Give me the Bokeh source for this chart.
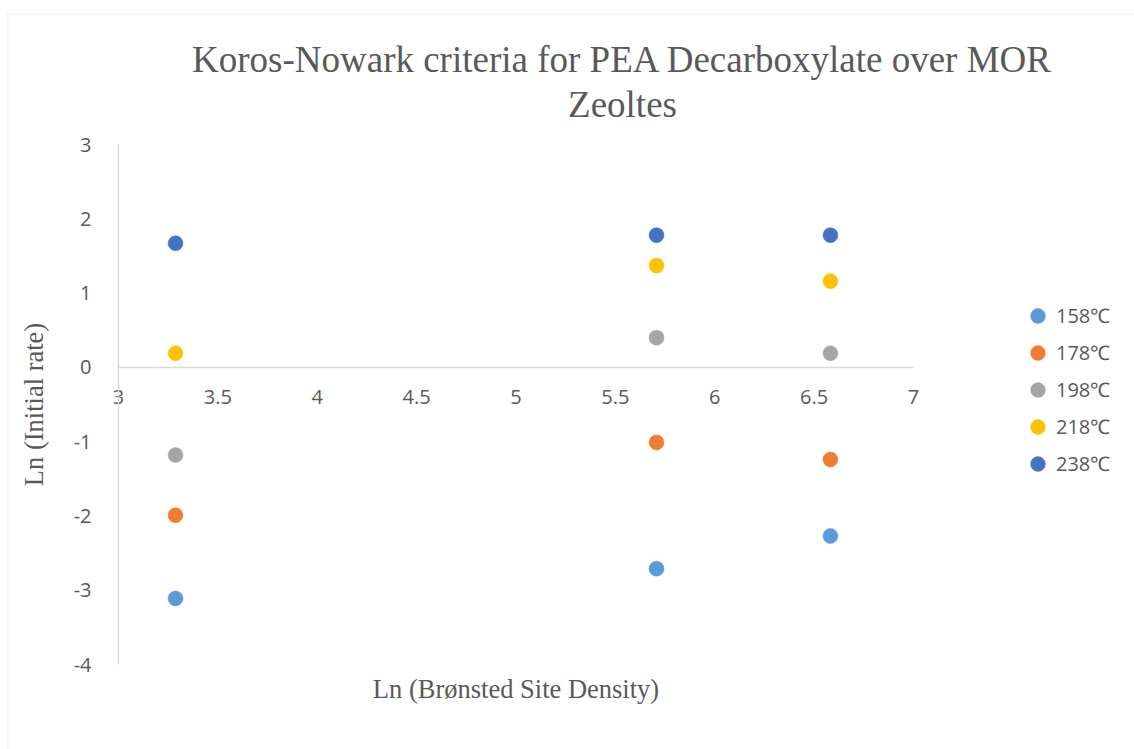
from bokeh.plotting import figure
from bokeh.models import (ColumnDataSource, Legend, LegendItem, LinearAxis,
                          FixedTicker, Label, Range1d, BoxAnnotation)
from bokeh.embed import file_html
from bokeh.resources import INLINE

# ---- data ----
x_density = [3.287, 5.707, 6.582]
series_names = ["158℃", "178℃", "198℃", "218℃", "238℃"]
y_158 = [-3.11, -2.71, -2.27]
y_178 = [-1.99, -1.01, -1.24]
y_198 = [-1.18, 0.40, 0.19]
y_218 = [0.19, 1.37, 1.16]
y_238 = [1.67, 1.78, 1.78]
series_values = [y_158, y_178, y_198, y_218, y_238]
colors = ["#5B9BD5", "#ED7D31", "#A5A5A5", "#FFC000", "#4472C4"]

x_ticks = [3, 3.5, 4, 4.5, 5, 5.5, 6, 6.5, 7]
x_tick_labels = ["3", "3.5", "4", "4.5", "5", "5.5", "6", "6.5", "7"]
y_ticks = [-4, -3, -2, -1, 0, 1, 2, 3]
y_tick_labels = ["-4", "-3", "-2", "-1", "0", "1", "2", "3"]

title_line1 = "Koros-Nowark criteria for PEA Decarboxylate over MOR"
title_line2 = "Zeoltes"
x_label = "Ln (Brønsted Site Density)"
y_label = "Ln (Initial rate)"

TXT = "#595959"
AX = "#D9D9D9"
SANS = "Open Sans"
SERIF = "Liberation Serif"

W, H = 1134, 749
# plot-area placement on the canvas (pixels)
AREA_L, AREA_R, AREA_T, AREA_B = 118, 913, 144, 664
x0, x1 = x_ticks[0], x_ticks[-1]
y0, y1 = y_ticks[0], y_ticks[-1]
ppx = (AREA_R - AREA_L) / (x1 - x0)
ppy = (AREA_B - AREA_T) / (y1 - y0)
xr = Range1d(x0 - AREA_L / ppx, x1 + (W - AREA_R) / ppx)
yr = Range1d(y0 - (H - AREA_B) / ppy, y1 + AREA_T / ppy)

p = figure(width=W, height=H, output_backend="svg", toolbar_location=None,
           x_range=xr, y_range=yr, x_axis_type=None, y_axis_type=None,
           min_border=0)
p.outline_line_color = None
p.xgrid.grid_line_color = None
p.ygrid.grid_line_color = None
p.background_fill_color = "white"
p.border_fill_color = "white"

# chart border (partly visible, as in the reference)
p.add_layout(BoxAnnotation(left=7, right=W + 20, top=H - 14, bottom=-20,
                           left_units="screen", right_units="screen",
                           top_units="screen", bottom_units="screen",
                           fill_color=None, line_color=AX, line_width=2))

# y axis at x = 3
yax = LinearAxis(ticker=FixedTicker(ticks=y_ticks), fixed_location=x0,
                 bounds=(y0, y1),
                 major_label_overrides={t: s for t, s in zip(y_ticks, y_tick_labels)})
yax.axis_line_color = AX
yax.axis_line_width = 1.5
yax.major_tick_line_color = None
yax.minor_tick_line_color = None
yax.major_label_standoff = 21
yax.major_label_text_font = SANS
yax.major_label_text_font_size = "20px"
yax.major_label_text_color = TXT
yax.axis_label = y_label
yax.axis_label_text_font = SERIF
yax.axis_label_text_font_size = "26.5px"
yax.axis_label_text_font_style = "normal"
yax.axis_label_text_color = TXT
yax.axis_label_standoff = 22
p.add_layout(yax, "left")

# x axis crossing at y = 0
xax = LinearAxis(ticker=FixedTicker(ticks=x_ticks), fixed_location=0,
                 bounds=(x0, x1),
                 major_label_overrides={t: s for t, s in zip(x_ticks, x_tick_labels)})
xax.axis_line_color = AX
xax.axis_line_width = 1.5
xax.major_tick_line_color = None
xax.minor_tick_line_color = None
xax.major_label_standoff = 17
xax.major_label_text_font = SANS
xax.major_label_text_font_size = "20px"
xax.major_label_text_color = TXT
p.add_layout(xax, "below")

items = []
for name, vals, col in zip(series_names, series_values, colors):
    src = ColumnDataSource(dict(x=x_density, y=vals))
    r = p.scatter("x", "y", source=src, size=15, fill_color=col, line_color=col,
                  line_width=0.5)
    items.append(LegendItem(label=name, renderers=[r]))

legend = Legend(items=items, location=(1019, 267))
legend.border_line_color = None
legend.background_fill_color = None
legend.padding = 0
legend.margin = 0
legend.glyph_width = 37
legend.glyph_height = 37
legend.label_height = 20
legend.spacing = 0
legend.label_standoff = -3
legend.label_text_font = SANS
legend.label_text_font_size = "20px"
legend.label_text_color = TXT
p.add_layout(legend, "center")

# x axis title
p.add_layout(Label(x=(AREA_L + AREA_R) / 2, y=H - 688, x_units="screen", y_units="screen",
                   text=x_label, text_align="center", text_baseline="middle",
                   text_font=SERIF, text_font_size="26.5px", text_color=TXT))

# chart title
p.add_layout(Label(x=622, y=H - 59, x_units="screen", y_units="screen", text=title_line1,
                   text_align="center", text_baseline="alphabetic",
                   text_font=SERIF, text_font_size="37px", text_color=TXT))
p.add_layout(Label(x=622, y=H - 104, x_units="screen", y_units="screen", text=title_line2,
                   text_align="center", text_baseline="alphabetic",
                   text_font=SERIF, text_font_size="37px", text_color=TXT))

open("out.html", "w").write(file_html(p, INLINE))
